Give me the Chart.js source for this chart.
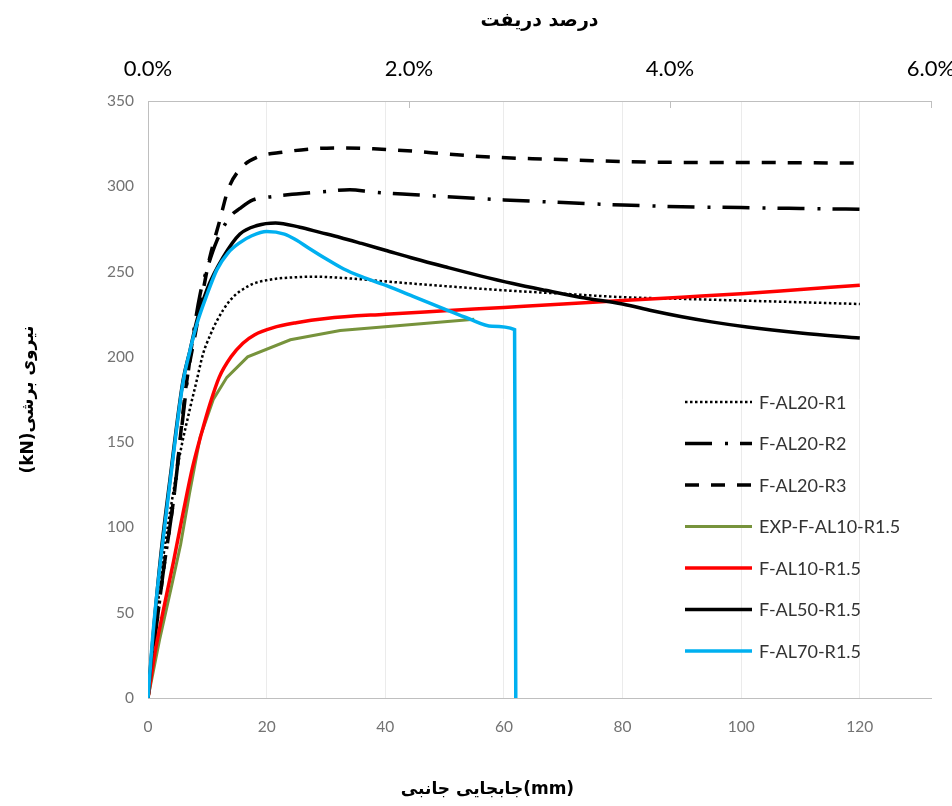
<!DOCTYPE html>
<html>
<head>
<meta charset="utf-8">
<title>نیروی برشی - جابجایی جانبی</title>
<script src="https://cdn.jsdelivr.net/npm/chart.js@4/dist/chart.umd.min.js"></script>
<style>
  html, body { margin: 0; padding: 0; background: #ffffff; }
  #wrap { width: 952px; height: 806px; position: relative; }
</style>
</head>
<body>
<div id="wrap"><canvas id="chart"></canvas></div>
<script>
// Lateral displacement (mm) and shear force (kN) for each model
const r1Disp  = [0, 1, 2.6, 4, 5.5, 7.1, 8.2, 9.3, 10.4, 11.6, 13.8, 17.2, 21, 24, 28, 34, 40.8, 50, 60, 70, 80, 90, 100, 110, 120];
const r1Force = [0, 33, 83, 115, 145, 170, 186, 202, 212, 221, 233, 242, 245.5, 246.5, 247, 246, 244, 241.5, 239, 237, 235, 234, 233, 232, 231];

const r2Disp  = [0, 1, 2.5, 4.3, 5.9, 7.3, 8.8, 10, 11.6, 13.8, 15.5, 17.7, 21, 25, 30, 34, 38, 45, 50, 55, 60, 70, 80, 90, 100, 110, 120];
const r2Force = [0, 30, 72, 116, 165, 205, 237, 252, 268, 282, 287, 292, 294, 295.5, 297, 298, 296.5, 295, 294, 293, 292, 290.5, 289, 288, 287.5, 287, 286.5];

const r3Disp  = [0, 1, 2.5, 4.3, 6.5, 8, 9.3, 10.4, 12.1, 13.5, 15.5, 18.4, 22.8, 27.8, 33, 38, 45, 50, 56, 62, 67, 75, 80, 90, 100, 110, 120];
const r3Force = [0, 30, 72, 116, 185, 214, 239, 258, 280, 298, 310, 317, 320, 322, 322.5, 322, 320.5, 319, 317.5, 316.5, 316, 315, 314.5, 314, 314, 313.8, 313.6];

const expDisp  = [0, 2, 4, 5.5, 7, 8.8, 11, 13.3, 16.8, 24, 32.4, 41, 55];
const expForce = [0, 35, 66, 90, 120, 153, 175, 188, 200, 210, 215.5, 218, 222];

const al10Disp  = [0, 1.2, 2.5, 4.3, 6, 7.5, 9, 10.5, 12, 14, 16, 18, 21, 25, 30, 40, 50, 60, 70, 80, 90, 100, 110, 120];
const al10Force = [0, 27, 50, 80, 110, 135, 155, 173, 188, 200, 208, 213, 217, 220, 222.5, 225, 227, 229, 231, 233, 235, 237, 239.5, 242];

const al50Disp  = [0, 1, 2.2, 3.7, 5.9, 7.1, 8.3, 10, 12.6, 15.5, 18.4, 21.5, 25.6, 29, 32.4, 36, 40, 45, 50.4, 56, 61.5, 67, 72.8, 80, 85, 90, 95, 101, 110, 120];
const al50Force = [0, 42, 85, 128, 186, 204, 222, 240, 258, 272, 277, 278.5, 276, 273, 270, 266.5, 262.5, 257.5, 252.5, 247.5, 243, 239, 235, 231, 227, 223.5, 220.5, 217.5, 214, 211];

const al70Disp  = [0, 0.9, 2.2, 3.7, 5.9, 7.1, 8.3, 10, 11.6, 13.5, 15.5, 17.5, 20, 23, 25, 27, 30, 33, 36, 40, 45, 50, 54, 58, 61.8, 62];
const al70Force = [0, 40, 83, 126, 185, 204, 220, 237, 251, 261, 267, 271, 273.5, 272, 268.5, 264, 257.5, 251.5, 247, 242, 235, 228, 222.5, 218, 216, 0];

const seriesNames = ['F-AL20-R1', 'F-AL20-R2', 'F-AL20-R3', 'EXP-F-AL10-R1.5', 'F-AL10-R1.5', 'F-AL50-R1.5', 'F-AL70-R1.5'];

// Axis ranges and tick steps
const dispTicks  = { min: 0, max: 132, step: 20 };
const driftTicks = { min: 0, max: 6, step: 2 };
const forceTicks = { min: 0, max: 350, step: 50 };

const LATIN = "Lato, 'DejaVu Sans', sans-serif";
const PERSIAN = "'DejaVu Sans', sans-serif";

function points(xs, ys) {
  return xs.map((x, i) => ({ x: x, y: ys[i] }));
}

const styles = [
  { color: '#000000', width: 2.5, dash: [2.5, 2.5], smooth: true },
  { color: '#000000', width: 3.5, dash: [27, 13, 3, 12], smooth: true },
  { color: '#000000', width: 3.5, dash: [14, 12], smooth: true },
  { color: '#77933c', width: 3, dash: [], smooth: false },
  { color: '#ff0000', width: 3.5, dash: [], smooth: true },
  { color: '#000000', width: 3.5, dash: [], smooth: true },
  { color: '#00b0f0', width: 3.5, dash: [], smooth: true }
];

const seriesData = [
  points(r1Disp, r1Force),
  points(r2Disp, r2Force),
  points(r3Disp, r3Force),
  points(expDisp, expForce),
  points(al10Disp, al10Force),
  points(al50Disp, al50Force),
  points(al70Disp, al70Force)
];

const datasets = seriesData.map((data, i) => ({
  label: seriesNames[i],
  data: data,
  showLine: true,
  borderColor: styles[i].color,
  backgroundColor: styles[i].color,
  borderWidth: styles[i].width,
  borderDash: styles[i].dash,
  pointRadius: 0,
  pointHoverRadius: 0,
  fill: false,
  tension: styles[i].smooth ? 0.4 : 0,
  cubicInterpolationMode: styles[i].smooth ? 'monotone' : 'default',
  order: seriesNames.length - 1 - i
}));

// Short inward tick marks on the drift axis
const topTickMarks = {
  id: 'topTickMarks',
  afterDatasetsDraw(chart) {
    const s = chart.scales.x2;
    const ctx = chart.ctx;
    ctx.save();
    ctx.strokeStyle = '#bfbfbf';
    ctx.lineWidth = 1;
    s.ticks.forEach((t, i) => {
      if (i === 0) return;
      const x = Math.round(s.getPixelForTick(i)) + 0.5;
      ctx.beginPath();
      ctx.moveTo(x, chart.chartArea.top);
      ctx.lineTo(x, chart.chartArea.top + 7);
      ctx.stroke();
    });
    ctx.restore();
  }
};

// Legend inside the plot area, lower right
const insideLegend = {
  id: 'insideLegend',
  afterDraw(chart) {
    const ctx = chart.ctx;
    const area = chart.chartArea;
    const x0 = area.right - 246;
    const y0 = area.top + 301;
    const rowGap = 41.5;
    const sample = 67;
    ctx.save();
    chart.data.datasets.forEach((ds, i) => {
      const y = y0 + i * rowGap;
      ctx.beginPath();
      ctx.setLineDash(ds.borderDash || []);
      ctx.strokeStyle = ds.borderColor;
      ctx.lineWidth = ds.borderWidth;
      ctx.moveTo(x0, y);
      ctx.lineTo(x0 + sample, y);
      ctx.stroke();
      ctx.setLineDash([]);
      ctx.fillStyle = '#333333';
      ctx.font = "18px " + LATIN;
      ctx.textAlign = 'left';
      ctx.textBaseline = 'middle';
      ctx.fillText(ds.label, x0 + sample + 7, y + 1);
    });
    ctx.restore();
  }
};

// Displacement axis title, set a little left of centre
const bottomTitle = {
  id: 'bottomTitle',
  afterDraw(chart) {
    const ctx = chart.ctx;
    const area = chart.chartArea;
    ctx.save();
    ctx.fillStyle = '#000000';
    ctx.font = "bold 17px " + PERSIAN;
    ctx.textAlign = 'center';
    ctx.textBaseline = 'middle';
    ctx.fillText('جابجایی جانبی(mm)', (area.left + area.right) / 2 - 52, chart.height - 16);
    ctx.restore();
  }
};

new Chart(document.getElementById('chart'), {
  type: 'scatter',
  data: { datasets: datasets },
  options: {
    responsive: true,
    maintainAspectRatio: false,
    animation: false,
    events: [],
    layout: { padding: 0 },
    plugins: {
      legend: { display: false },
      tooltip: { enabled: false }
    },
    scales: {
      x: {
        type: 'linear',
        position: 'bottom',
        min: dispTicks.min,
        max: dispTicks.max,
        ticks: {
          stepSize: dispTicks.step,
          includeBounds: false,
          color: '#737373',
          font: { family: LATIN, size: 15.5 },
          padding: 20,
          maxRotation: 0
        },
        grid: { color: '#ebebeb', lineWidth: 1, drawTicks: false },
        border: { color: '#bfbfbf', width: 1 },
        afterFit(scale) { scale.height = 108; scale.paddingRight = 21; scale.paddingLeft = 0; }
      },
      x2: {
        type: 'linear',
        position: 'top',
        min: driftTicks.min,
        max: driftTicks.max,
        ticks: {
          stepSize: driftTicks.step,
          color: '#000000',
          font: { family: LATIN, size: 22 },
          padding: 19,
          maxRotation: 0,
          callback: (v) => v.toFixed(1) + '%'
        },
        grid: { drawOnChartArea: false, drawTicks: false },
        border: { color: '#bfbfbf', width: 1 },
        title: {
          display: true,
          text: 'درصد دریفت',
          color: '#000000',
          font: { family: PERSIAN, size: 19, weight: 'bold' },
          padding: { top: 10, bottom: 0 }
        },
        afterFit(scale) { scale.height = 101; scale.paddingRight = 21; scale.paddingLeft = 0; }
      },
      y: {
        type: 'linear',
        position: 'left',
        min: forceTicks.min,
        max: forceTicks.max,
        ticks: {
          stepSize: forceTicks.step,
          color: '#737373',
          font: { family: LATIN, size: 15.5 },
          padding: 14
        },
        grid: { display: true, drawOnChartArea: false, drawTicks: false },
        border: { color: '#bfbfbf', width: 1 },
        title: {
          display: true,
          text: '(kN)نیروی برشی',
          color: '#000000',
          font: { family: PERSIAN, size: 17, weight: 'bold' },
          padding: { top: 18, bottom: 0 }
        },
        afterFit(scale) { scale.width = 148; scale.paddingTop = 0; scale.paddingBottom = 0; }
      }
    }
  },
  plugins: [topTickMarks, insideLegend, bottomTitle]
});
</script>
</body>
</html>
